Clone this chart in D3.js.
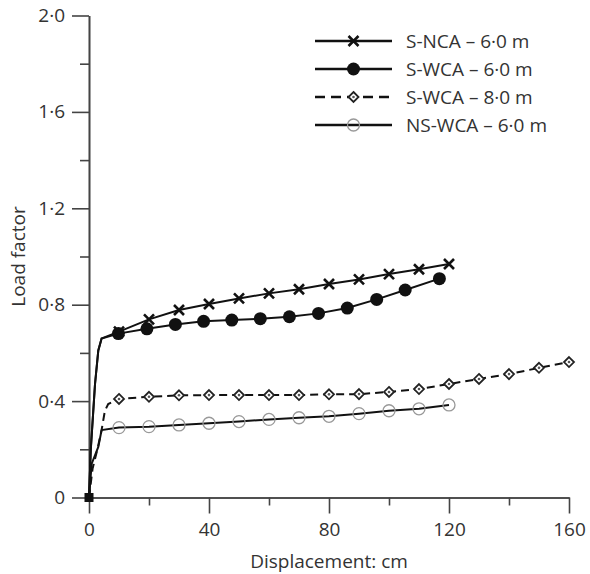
<!DOCTYPE html>
<html>
<head>
<meta charset="utf-8">
<script src="https://cdn.jsdelivr.net/npm/d3@7"></script>
<style>
  body { margin: 0; background: #fff; }
  svg text { font-family: "Open Sans", "Noto Sans", sans-serif; fill: #333; }
</style>
</head>
<body>
<svg class="chart" width="590" height="574"></svg>
<script>
// displacement (cm) and load factor
const riseDisp = [0, 0.6, 2, 3.1, 4.2]            // steep start shared by S-NCA / S-WCA 6 m
const riseLoad = [0, 0.2, 0.47, 0.61, 0.66]

const sncaDisp = [10, 20, 30, 40, 50, 60, 70, 80, 90, 100, 110, 120]
const sncaLoad = [0.688, 0.739, 0.778, 0.803, 0.826, 0.847, 0.864, 0.886, 0.905, 0.927, 0.947, 0.969]

const swca6Disp = [9.8, 19.3, 28.8, 38.2, 47.6, 57.1, 66.8, 76.5, 86.1, 95.9, 105.4, 116.8]
const swca6Load = [0.68, 0.70, 0.718, 0.731, 0.736, 0.742, 0.75, 0.764, 0.786, 0.822, 0.861, 0.908]

const swca8RiseDisp = [0, 1.2, 2.8, 4.2, 5.3, 6.4]
const swca8RiseLoad = [0, 0.12, 0.2, 0.28, 0.36, 0.388]
const swca8Disp = [10, 20, 30, 40, 50, 60, 70, 80, 90, 100, 110, 120, 130, 140, 150, 160]
const swca8Load = [0.409, 0.418, 0.424, 0.425, 0.425, 0.425, 0.425, 0.428, 0.429, 0.438, 0.450, 0.471, 0.492, 0.512, 0.538, 0.562]

const nsRiseDisp = [0, 0.9, 3.1, 4.2]
const nsRiseLoad = [0, 0.14, 0.21, 0.28]
const nswcaDisp = [10, 20, 30, 40, 50, 60, 70, 80, 90, 100, 110, 120]
const nswcaLoad = [0.290, 0.294, 0.301, 0.308, 0.315, 0.324, 0.331, 0.337, 0.348, 0.360, 0.368, 0.384]

const legendLabels = ["S-NCA \u2013 6\u00b70 m", "S-WCA \u2013 6\u00b70 m", "S-WCA \u2013 8\u00b70 m", "NS-WCA \u2013 6\u00b70 m"]
const xTicks = [0, 40, 80, 120, 160]
const xMinor = [20, 60, 100, 140]
const yTicks = [0, 0.4, 0.8, 1.2, 1.6, 2.0]
const yMinor = [0.2, 0.6, 1.0, 1.4, 1.8]

const zip = (xs, ys) => xs.map((d, i) => [d, ys[i]])

const series = [
  {name: legendLabels[0], marker: "cross", dash: null,
   line: zip(riseDisp, riseLoad).concat(zip(sncaDisp, sncaLoad)), pts: zip(sncaDisp, sncaLoad)},
  {name: legendLabels[1], marker: "dot", dash: null,
   line: zip(riseDisp, riseLoad).concat(zip(swca6Disp, swca6Load)), pts: zip(swca6Disp, swca6Load)},
  {name: legendLabels[2], marker: "diamond", dash: "8,5",
   line: zip(swca8RiseDisp, swca8RiseLoad).concat(zip(swca8Disp, swca8Load)), pts: zip(swca8Disp, swca8Load)},
  {name: legendLabels[3], marker: "ring", dash: null,
   line: zip(nsRiseDisp, nsRiseLoad).concat(zip(nswcaDisp, nswcaLoad)), pts: zip(nswcaDisp, nswcaLoad)}
]

const margin = {top: 15.5, right: 21, bottom: 76.5, left: 89}
const width = 590 - margin.left - margin.right,
      height = 574 - margin.top - margin.bottom
const fontSize = 19

const x = d3.scaleLinear().domain([0, 160]).range([0, width])
const y = d3.scaleLinear().domain([0, 2]).range([height, 0])

const fmt = d => d === 0 ? "0" : d.toFixed(1).replace(".", "\u00b7")

const chart = d3.select(".chart")
  .append("g")
    .attr("transform", "translate(" + margin.left + "," + margin.top + ")")

// axes: major ticks with labels, minor ticks shorter
const axisColor = "#444"
chart.append("g")
    .attr("transform", "translate(0," + height + ")")
    .call(d3.axisBottom(x).tickValues(xMinor).tickSize(8).tickSizeOuter(0).tickFormat(""))
chart.append("g")
    .attr("transform", "translate(0," + height + ")")
    .call(d3.axisBottom(x).tickValues(xTicks).tickSize(16).tickSizeOuter(0).tickPadding(9).tickFormat(d => d))
chart.append("g")
    .call(d3.axisLeft(y).tickValues(yMinor).tickSize(9).tickSizeOuter(0).tickFormat(""))
chart.append("g")
    .call(d3.axisLeft(y).tickValues(yTicks).tickSize(17).tickSizeOuter(0).tickPadding(7).tickFormat(fmt))

chart.selectAll(".domain, .tick line")
    .attr("stroke", axisColor)
    .attr("stroke-width", 1.6)
chart.selectAll(".tick text")
    .attr("font-size", fontSize)
    .attr("font-family", null)
    .attr("fill", "#333")

chart.append("text")
    .attr("x", width / 2)
    .attr("y", height + 70)
    .attr("text-anchor", "middle")
    .attr("font-size", fontSize)
    .text("Displacement: cm")
chart.append("text")
    .attr("transform", "translate(-64," + (height / 2) + ") rotate(-90)")
    .attr("text-anchor", "middle")
    .attr("font-size", fontSize)
    .text("Load factor")

const line = d3.line().x(d => x(d[0])).y(d => y(d[1]))

// draw a marker of a given kind at (cx, cy)
function drawMarker(g, kind, cx, cy) {
  if (kind === "cross") {
    const s = 5
    g.append("path")
      .attr("d", `M${cx - s},${cy - s}L${cx + s},${cy + s}M${cx - s},${cy + s}L${cx + s},${cy - s}`)
      .attr("stroke", "#111").attr("stroke-width", 2.6).attr("fill", "none")
  } else if (kind === "dot") {
    g.append("circle").attr("cx", cx).attr("cy", cy).attr("r", 6.5).attr("fill", "#111")
  } else if (kind === "diamond") {
    const s = 5
    g.append("path")
      .attr("d", `M${cx},${cy - s}L${cx + s},${cy}L${cx},${cy + s}L${cx - s},${cy}Z`)
      .attr("stroke", "#222").attr("stroke-width", 1.8).attr("fill", "#fff")
    g.append("circle").attr("cx", cx).attr("cy", cy).attr("r", 1.3).attr("fill", "#555")
  } else if (kind === "ring") {
    g.append("circle").attr("cx", cx).attr("cy", cy).attr("r", 6)
      .attr("stroke", "#999").attr("stroke-width", 1.3).attr("fill", "none")
  }
}

// draw back to front so S-NCA ends up on top
series.slice().reverse().forEach(s => {
  chart.append("path")
      .datum(s.line)
      .attr("d", line)
      .attr("fill", "none")
      .attr("stroke", "#111")
      .attr("stroke-width", 2)
      .attr("stroke-dasharray", s.dash)
  const mg = chart.append("g")
  s.pts.forEach(p => drawMarker(mg, s.marker, x(p[0]), y(p[1])))
})

// shared origin point
chart.append("rect")
    .attr("x", x(0) - 4.5)
    .attr("y", y(0) - 4.5)
    .attr("width", 9)
    .attr("height", 9)
    .attr("fill", "#111")

// legend
const legend = d3.select(".chart").append("g")
series.forEach((s, i) => {
  const ly = 41 + i * 28
  legend.append("line")
      .attr("x1", 315).attr("x2", 392)
      .attr("y1", ly).attr("y2", ly)
      .attr("stroke", "#111")
      .attr("stroke-width", 2.4)
      .attr("stroke-dasharray", s.dash ? "10,6" : null)
  drawMarker(legend, s.marker, 353.5, ly)
  legend.append("text")
      .attr("x", 406)
      .attr("y", ly + 6.5)
      .attr("font-size", fontSize)
      .text(s.name)
})
</script>
</body>
</html>
